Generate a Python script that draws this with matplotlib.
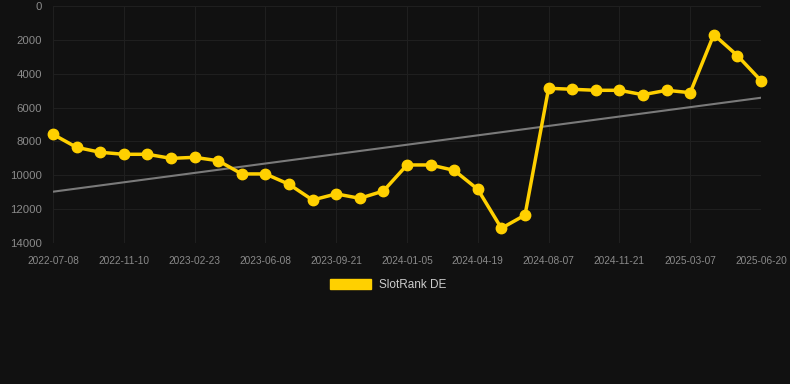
import numpy as np
import matplotlib
matplotlib.use('Agg')
import matplotlib.pyplot as plt
from matplotlib.patches import Patch

# one point per ~5 weeks, only every third date is shown on the axis
dates = ['2022-07-08', '2022-08-12', '2022-09-28', '2022-11-10', '2022-12-15',
         '2023-01-19', '2023-02-23', '2023-03-30', '2023-05-04', '2023-06-08',
         '2023-07-13', '2023-08-17', '2023-09-21', '2023-10-26', '2023-11-30',
         '2024-01-05', '2024-02-09', '2024-03-15', '2024-04-19', '2024-05-24',
         '2024-06-30', '2024-08-07', '2024-09-11', '2024-10-16', '2024-11-21',
         '2024-12-26', '2025-01-30', '2025-03-07', '2025-04-11', '2025-05-16',
         '2025-06-20']
rank = [7580, 8350, 8640, 8760, 8760, 9000, 8940, 9140, 9920, 9920,
        10530, 11460, 11100, 11360, 10930, 9390, 9390, 9710, 10830, 13130,
        12350, 4860, 4920, 4980, 4980, 5240, 4980, 5120, 1690, 2930,
        4410]
trend_ends = [10970, 5420]
yticks = [0, 2000, 4000, 6000, 8000, 10000, 12000, 14000]

plt.rcParams['font.family'] = ['Liberation Sans', 'DejaVu Sans']

bg = '#111111'
fig = plt.figure(figsize=[7.9, 3.84], dpi=100, facecolor=bg)
ax = fig.add_axes([53 / 790, 1 - 243 / 384, 708 / 790, 237 / 384])
ax.set_facecolor(bg)

x = np.arange(len(dates))
ax.plot([x[0], x[-1]], trend_ends, color='#7a7a7a', lw=1.5, zorder=2)
ax.plot(x, rank, color='#FFD000', lw=2.5, marker='o', ms=7.5, zorder=3,
        clip_on=False)

ax.set_ylim(14000, 0)
ax.set_xlim(x[0], x[-1])
ax.set_yticks(yticks)
ax.set_yticklabels([str(v) for v in yticks])
ax.set_xticks(x[::3])
ax.set_xticklabels(dates[::3])
ax.tick_params(axis='x', length=0, pad=9, labelsize=7.3, labelcolor='#8a8a8a')
ax.tick_params(axis='y', length=0, pad=8, labelsize=8.2, labelcolor='#8a8a8a')
ax.grid(True, color='#1f1f1f', lw=0.8)
ax.set_axisbelow(True)
for s in ax.spines.values():
    s.set_visible(False)

fig.legend(handles=[Patch(color='#FFD000', label='SlotRank DE')],
           loc='center', bbox_to_anchor=(388 / 790, 1 - 285 / 384),
           frameon=False, fontsize=8.5, labelcolor='#cccccc',
           handlelength=3.5, handleheight=1.0, handletextpad=0.6)

plt.savefig('out.png', facecolor=bg)
plt.close()
